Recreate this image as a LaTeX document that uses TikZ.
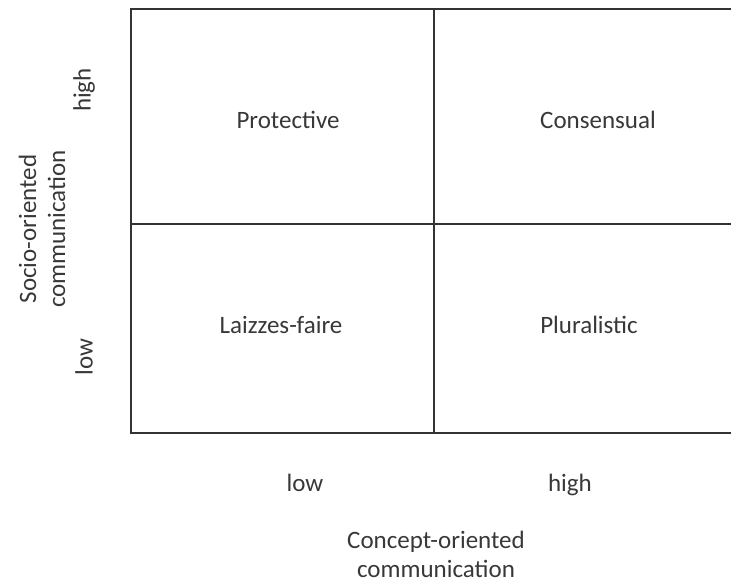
\documentclass[tikz,border=0pt]{standalone}
\usepackage{fontspec}
\setmainfont{Carlito}
\begin{document}
\begin{tikzpicture}[x=1pt,y=-1pt,
        lbl/.style={font=\fontsize{25}{29}\selectfont, text=black!78, inner sep=0pt},
        grid/.style={line width=1.6pt, draw=black!80}]
        \useasboundingbox (0,0) rectangle (731,585);
        % corners of the matrix
        \coordinate (nw) at (131,9);
        \coordinate (ne) at (731,9);
        \coordinate (sw) at (131,433);
        \coordinate (se) at (731,433);
        \coordinate (wm) at (131,224);
        \coordinate (em) at (731,224);
        \coordinate (nm) at (434,9);
        \coordinate (sm) at (434,433);

        \draw[grid] (ne) -- (nw) -- (sw) -- (se);
        \draw[grid] (wm) -- (em);
        \draw[grid] (nm) -- (sm);

        % quadrant labels
        \node[lbl] (protective) at (288,120) {Protective};
        \node[lbl] (consensual) at (598,120) {Consensual};
        \node[lbl] (laissez) at (281,325) {Laizzes-faire};
        \node[lbl] (pluralistic) at (589,325) {Pluralistic};

        % vertical axis
        \node[lbl, rotate=90] (yhigh) at (84,90) {high};
        \node[lbl, rotate=90] (ylow) at (84,357) {low};
        \node[lbl, rotate=90, align=center] (yaxis) at (42,229) {Socio-oriented\\communication};

        % horizontal axis
        \node[lbl, anchor=base] (xlow) at (305,491) {low};
        \node[lbl, anchor=base] (xhigh) at (570,491) {high};
        \node[lbl, align=center] (xaxis) at (436,554) {Concept-oriented\\communication};
    \end{tikzpicture}
\end{document}
